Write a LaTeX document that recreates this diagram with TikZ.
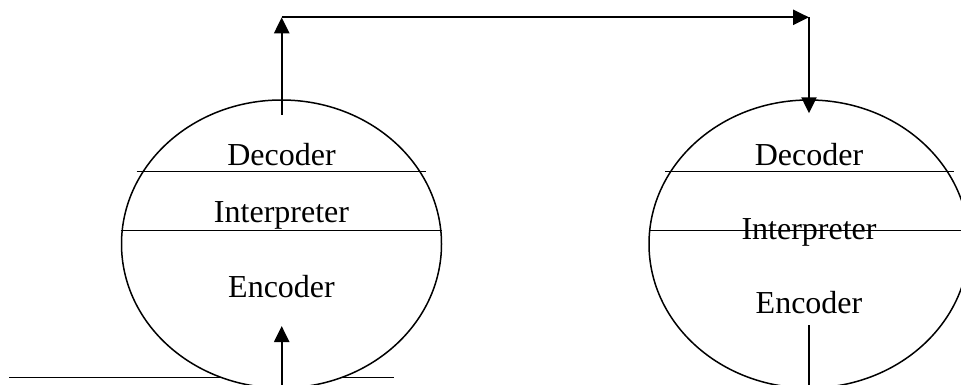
\documentclass[tikz,border=0pt]{standalone}
\usepackage{fontspec}
\setmainfont{Liberation Serif}
\usetikzlibrary{shapes.geometric,arrows.meta}
\begin{document}
\begin{tikzpicture}[x=1pt,y=-1pt,
  bubble/.style={ellipse, draw, fill=white, line width=1.5pt, minimum width=320pt, minimum height=288pt, inner sep=0pt, outer sep=0pt},
  divider/.style={line width=1.5pt},
  flow/.style={line width=2.3pt, -{Triangle[length=16pt,width=15pt]}},
  plain/.style={line width=2.3pt},
  lbl/.style={font=\fontsize{32}{37}\selectfont, anchor=base, inner sep=0pt}]
\useasboundingbox (0,0) rectangle (961,385);
\clip (0,0) rectangle (961,385);
% input line behind the left bubble
\coordinate (inA) at (9.3,377.7);
\coordinate (inB) at (394,377.7);
\draw[divider] (inA) -- (inB);
% bubbles
\node[bubble] (L) at (281.5,244) {};
\node[bubble] (R) at (809,244) {};
% dividers
\draw[divider] (136.7,171.7) -- (426,171.7);
\draw[divider] (120.7,230.7) -- (441.7,230.7);
\draw[divider] (665,171.7) -- (954.3,171.7);
\draw[divider] (649,230.7) -- (965,230.7);
% labels
\node[lbl] (ld) at (281.5,165.7) {Decoder};
\node[lbl] (li) at (281.5,222.7) {Interpreter};
\node[lbl] (le) at (281.5,297.7) {Encoder};
\node[lbl] (rd) at (809,165.7) {Decoder};
\node[lbl] (ri) at (809,239.3) {Interpreter};
\node[lbl] (re) at (809,313.3) {Encoder};
% connectors
\coordinate (lstart) at (281.7,115);
\coordinate (ltop) at (281.7,17.3);
\coordinate (rtop) at (809,17.3);
\coordinate (rin) at (809,113.3);
\draw[flow] (lstart) -- (ltop);
\draw[flow] (ltop) -- (rtop);
\draw[flow] (rtop) -- (rin);
\coordinate (lbot) at (281.7,392);
\coordinate (lin) at (281.7,326);
\draw[flow] (lbot) -- (lin);
\coordinate (rout) at (809,325);
\coordinate (rbot) at (809,392);
\draw[plain] (rout) -- (rbot);
\end{tikzpicture}
\end{document}
